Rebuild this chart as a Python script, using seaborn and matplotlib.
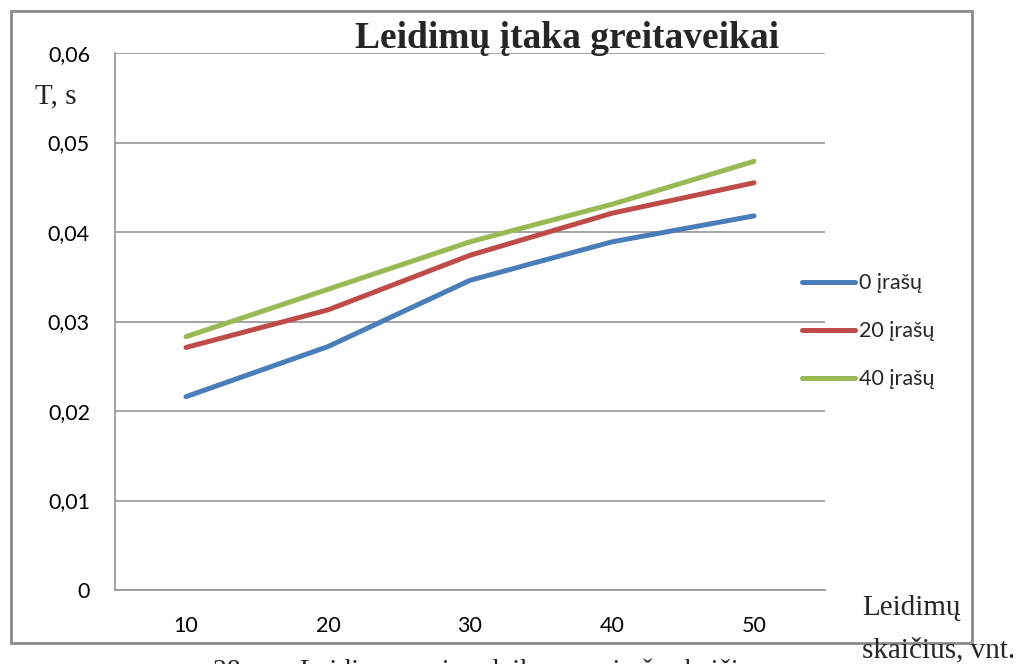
"""
Leidimų įtaka greitaveikai - line chart (Excel style) redone with seaborn
"""

import pandas as pd
import numpy as np
import matplotlib
matplotlib.use("Agg")
import matplotlib.pyplot as plt
import seaborn as sns
from matplotlib.patches import Rectangle

# Data
categories = ["10", "20", "30", "40", "50"]
series_names = ["0 įrašų", "20 įrašų", "40 įrašų"]
t_0 = [0.0216, 0.0272, 0.0346, 0.0389, 0.0418]
t_20 = [0.0271, 0.0313, 0.0374, 0.0421, 0.0455]
t_40 = [0.0283, 0.0336, 0.0389, 0.0431, 0.0479]
y_ticks = [0, 0.01, 0.02, 0.03, 0.04, 0.05, 0.06]
y_tick_labels = ["0", "0,01", "0,02", "0,03", "0,04", "0,05", "0,06"]

colors = ["#4A7EBB", "#BE4B48", "#98B954"]
grid_col = "#8C8C8C"

# Long-form table for seaborn
df = pd.DataFrame({
    "Leidimai": categories * 3,
    "T": t_0 + t_20 + t_40,
    "Serija": np.repeat(series_names, len(categories)),
})

sns.set_style("white")
plt.rcParams["font.family"] = ["Lato", "DejaVu Sans"]

W, H = 1035, 664
fig = plt.figure(figsize=(W / 100, H / 100), dpi=100)
ax = fig.add_axes([115 / W, 1 - 590 / H, 710 / W, 537 / H])

sns.lineplot(data=df, x="Leidimai", y="T", hue="Serija", palette=colors,
             linewidth=3.6, sort=False, ax=ax, legend=False)

# axes / grid
ax.set_xlim(-0.5, len(categories) - 0.5)
ax.set_ylim(0, 0.06)
ax.set_yticks(y_ticks)
ax.set_yticklabels(y_tick_labels)
ax.set_xticks(range(len(categories)))
ax.set_xticklabels(categories)
ax.set_xticks(np.arange(-0.5, len(categories)), minor=True)
ax.tick_params(axis="x", which="major", length=0, pad=19, labelsize=15.5, colors="#000000")
ax.tick_params(axis="x", which="minor", length=7, width=1, color=grid_col, direction="out")
ax.tick_params(axis="y", length=7, width=1, color=grid_col, direction="out", pad=11,
               labelsize=15.5, labelcolor="#000000")
ax.yaxis.grid(True, color=grid_col, linewidth=1.1)
ax.set_axisbelow(True)
for side in ["top", "right"]:
    ax.spines[side].set_visible(False)
for side in ["left", "bottom"]:
    ax.spines[side].set_color(grid_col)
    ax.spines[side].set_linewidth(1.1)
ax.set_xlabel("")
ax.set_ylabel("")

# legend on the right
handles = [plt.Line2D([], [], color=c, linewidth=3.6, solid_capstyle="round") for c in colors]
fig.legend(handles, series_names, loc="upper left", bbox_to_anchor=(783 / W, 1 - 254 / H),
           frameon=False, fontsize=15.5, handlelength=2.45, handletextpad=0.2,
           labelspacing=1.3)

# chart frame
fig.patches.append(Rectangle((11 / W, 1 - 643 / H), 961 / W, 632 / H,
                             transform=fig.transFigure, fill=False,
                             edgecolor="#8A8A8A", linewidth=2))

serif = ["Liberation Serif", "DejaVu Serif"]
fig.text(567 / W, 1 - 38 / H, "Leidimų įtaka greitaveikai", ha="center", va="center",
         fontsize=27, fontweight="bold", family=serif)
fig.text(35 / W, 1 - 96 / H, "T, s", ha="left", va="center", fontsize=21, family=serif)
fig.text(862 / W, 1 - 608 / H, "Leidimų", ha="left", va="center", fontsize=21, family=serif)
fig.text(862 / W, 1 - 650 / H, "skaičius, vnt.", ha="left", va="center", fontsize=21, family=serif)
# caption of the figure, cut off by the picture's edge
fig.text(213 / W, 1 - 659 / H, "28 pav. Leidimų gavimo laikas nuo įrašų skaičiaus",
         ha="left", va="top", fontsize=20, family=serif)

fig.savefig("out.png", dpi=100)
